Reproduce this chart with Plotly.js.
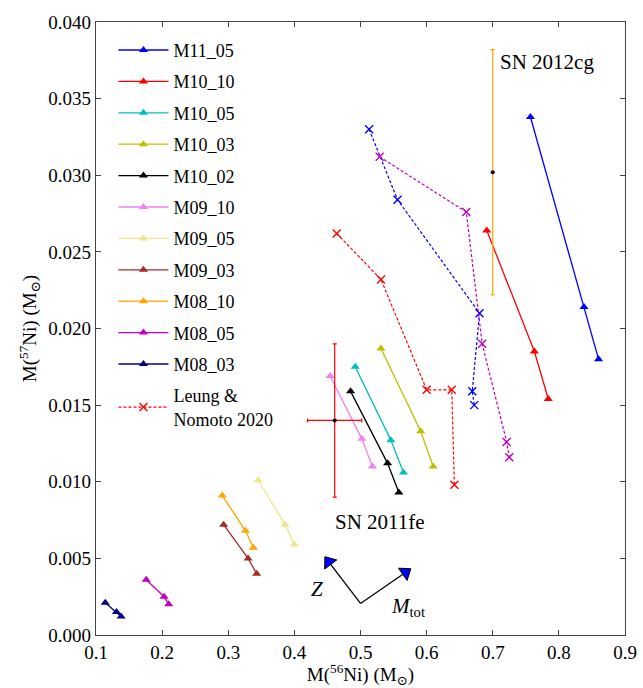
<!DOCTYPE html>
<html><head><meta charset="utf-8">
<script src="https://cdn.plot.ly/plotly-3.0.1.min.js"></script>
<style>html,body{margin:0;padding:0;background:#fff;}#chart{width:643px;height:688px;}</style>
</head><body><div id="chart"></div>
<script>
// Model series: M(56Ni) and M(57Ni)
const modelNames = ["M11_05","M10_10","M10_05","M10_03","M10_02","M09_10","M09_05","M09_03","M08_10","M08_05","M08_03"];
const modelColors = ["#0000ff","#ff0000","#00bfbf","#bfbf00","#000000","#ee82ee","#eee68c","#a52a2a","#ffa500","#bf00bf","#000080"];
const M11_05_x = [0.757, 0.838, 0.860];  const M11_05_y = [0.0338, 0.0214, 0.0180];
const M10_10_x = [0.691, 0.763, 0.784];  const M10_10_y = [0.0264, 0.0185, 0.0154];
const M10_05_x = [0.492, 0.546, 0.565];  const M10_05_y = [0.0175, 0.0127, 0.0106];
const M10_03_x = [0.531, 0.591, 0.610];  const M10_03_y = [0.0187, 0.0133, 0.0110];
const M10_02_x = [0.485, 0.541, 0.558];  const M10_02_y = [0.0159, 0.0112, 0.0093];
const M09_10_x = [0.454, 0.502, 0.518];  const M09_10_y = [0.0169, 0.0128, 0.0110];
const M09_05_x = [0.345, 0.386, 0.400];  const M09_05_y = [0.0101, 0.0072, 0.0059];
const M09_03_x = [0.293, 0.330, 0.343];  const M09_03_y = [0.0072, 0.0050, 0.0040];
const M08_10_x = [0.291, 0.326, 0.338];  const M08_10_y = [0.0091, 0.0068, 0.0057];
const M08_05_x = [0.176, 0.203, 0.210];  const M08_05_y = [0.0036, 0.0025, 0.0020];
const M08_03_x = [0.114, 0.131, 0.138];  const M08_03_y = [0.0021, 0.0015, 0.0012];
const modelX = [M11_05_x,M10_10_x,M10_05_x,M10_03_x,M10_02_x,M09_10_x,M09_05_x,M09_03_x,M08_10_x,M08_05_x,M08_03_x];
const modelY = [M11_05_y,M10_10_y,M10_05_y,M10_03_y,M10_02_y,M09_10_y,M09_05_y,M09_03_y,M08_10_y,M08_05_y,M08_03_y];

// Leung & Nomoto 2020 series (dashed)
const LN_red_x = [0.464, 0.531, 0.600, 0.638, 0.642];
const LN_red_y = [0.0262, 0.0232, 0.0160, 0.0160, 0.0098];
const LN_blue_x = [0.513, 0.556, 0.680, 0.669, 0.672];
const LN_blue_y = [0.0330, 0.0284, 0.0210, 0.0159, 0.0150];
const LN_mag_x = [0.529, 0.660, 0.684, 0.721, 0.725];
const LN_mag_y = [0.0312, 0.0276, 0.0190, 0.0126, 0.0116];

// Observations
const SN11fe_x = [0.461]; const SN11fe_y = [0.0140];
const SN11fe_xerr = [0.041]; const SN11fe_yerr = [0.0050];
const SN12cg_x = [0.700]; const SN12cg_y = [0.0302];
const SN12cg_yerr = [0.0080];

// Direction arrows (origin, Z tip, Mtot tip)
const arrowZ_x = [0.500, 0.452]; const arrowZ_y = [0.00206, 0.00477];
const arrowM_x = [0.500, 0.568]; const arrowM_y = [0.00206, 0.00408];

const serif = "'Liberation Serif', 'Times New Roman', Times, 'Noto Serif', 'DejaVu Serif', serif";
const traces = [];
for (let i = 0; i < modelNames.length; i++) {
  traces.push({x: modelX[i], y: modelY[i], name: modelNames[i], type: 'scatter', mode: 'lines+markers',
    line: {color: modelColors[i], width: 1.3},
    marker: {symbol: 'triangle-up', size: 8, color: modelColors[i]},
    legendgroup: 'g'+i});
}
traces.push({x: LN_red_x, y: LN_red_y, name: 'Leung &amp;<br>Nomoto 2020', type: 'scatter', mode: 'lines+markers',
  line: {color: '#ff0000', width: 1.2, dash: '3px,2px'}, marker: {symbol: 'x-thin', size: 8, line: {color: '#ff0000', width: 1.4}}, legendgroup: 'gLN'});
traces.push({x: LN_blue_x, y: LN_blue_y, showlegend: false, type: 'scatter', mode: 'lines+markers',
  line: {color: '#0000ff', width: 1.2, dash: '3px,2px'}, marker: {symbol: 'x-thin', size: 8, line: {color: '#0000ff', width: 1.4}}});
traces.push({x: LN_mag_x, y: LN_mag_y, showlegend: false, type: 'scatter', mode: 'lines+markers',
  line: {color: '#bf00bf', width: 1.2, dash: '3px,2px'}, marker: {symbol: 'x-thin', size: 8, line: {color: '#bf00bf', width: 1.4}}});
traces.push({x: SN11fe_x, y: SN11fe_y, showlegend: false, type: 'scatter', mode: 'markers',
  marker: {size: 4, color: '#000000'},
  error_x: {type: 'data', array: SN11fe_xerr, color: '#ff0000', thickness: 1.2, width: 2},
  error_y: {type: 'data', array: SN11fe_yerr, color: '#ff0000', thickness: 1.2, width: 2}});
traces.push({x: SN12cg_x, y: SN12cg_y, showlegend: false, type: 'scatter', mode: 'markers',
  marker: {size: 4, color: '#000000'},
  error_y: {type: 'data', array: SN12cg_yerr, color: '#ffa500', thickness: 1.2, width: 2}});
traces.push({x: arrowZ_x, y: arrowZ_y, showlegend: false, type: 'scatter', mode: 'lines',
  line: {color: '#000', width: 1.3}, hoverinfo: 'skip'});
traces.push({x: arrowM_x, y: arrowM_y, showlegend: false, type: 'scatter', mode: 'lines',
  line: {color: '#000', width: 1.3}, hoverinfo: 'skip'});
traces.push({x: [arrowZ_x[1], arrowM_x[1]], y: [arrowZ_y[1], arrowM_y[1]], showlegend: false, type: 'scatter', mode: 'markers',
  marker: {symbol: 'triangle-up', size: 13, color: '#0000ff', angle: [-37, 55], line: {color: '#000', width: 1}}, hoverinfo: 'skip'});

const layout = {
  width: 643, height: 688,
  margin: {l: 96, r: 18, t: 22, b: 53},
  paper_bgcolor: '#fff', plot_bgcolor: '#fff',
  font: {family: serif, size: 17, color: '#000'},
  showlegend: true,
  legend: {x: 0.033, y: 0.984, xanchor: 'left', yanchor: 'top', bgcolor: 'rgba(0,0,0,0)',
    font: {family: serif, size: 18}, tracegroupgap: 5, traceorder: 'grouped', itemwidth: 50},
  xaxis: {range: [0.1, 0.9], tickvals: [0.1,0.2,0.3,0.4,0.5,0.6,0.7,0.8,0.9], tickformat: '.1f',
    ticks: 'inside', ticklen: 5, tickcolor: '#444', showline: true, linecolor: '#444', linewidth: 1.3, mirror: 'allticks',
    showgrid: false, zeroline: false, tickfont: {family: serif, size: 19},
    title: {text: 'M(<sup>56</sup>Ni) (M<sub>⊙</sub>)', font: {family: serif, size: 19}, standoff: 2}},
  yaxis: {range: [0, 0.04], dtick: 0.005, tickformat: '.3f',
    ticks: 'inside', ticklen: 5, tickcolor: '#444', showline: true, linecolor: '#444', linewidth: 1.3, mirror: 'allticks',
    showgrid: false, zeroline: false, tickfont: {family: serif, size: 19},
    title: {text: 'M(<sup>57</sup>Ni) (M<sub>⊙</sub>)', font: {family: serif, size: 19}, standoff: 6}},
  annotations: [
    {x: 0.708, y: 0.0374, xref: 'x', yref: 'y', text: 'SN 2012cg', showarrow: false, xanchor: 'left', yanchor: 'middle', font: {family: serif, size: 21}},
    {x: 0.459, y: 0.0074, xref: 'x', yref: 'y', text: 'SN 2011fe', showarrow: false, xanchor: 'left', yanchor: 'middle', font: {family: serif, size: 21}},
    {x: 0.447, y: 0.0030, xref: 'x', yref: 'y', text: '<i>Z</i>', showarrow: false, xanchor: 'right', yanchor: 'middle', font: {family: serif, size: 21}},
    {x: 0.543, y: 0.0018, xref: 'x', yref: 'y', text: '<i>M</i><sub>tot</sub>', showarrow: false, xanchor: 'left', yanchor: 'middle', font: {family: serif, size: 21}}
  ]
};
Plotly.newPlot('chart', traces, layout, {displayModeBar: false, staticPlot: true});
</script></body></html>
